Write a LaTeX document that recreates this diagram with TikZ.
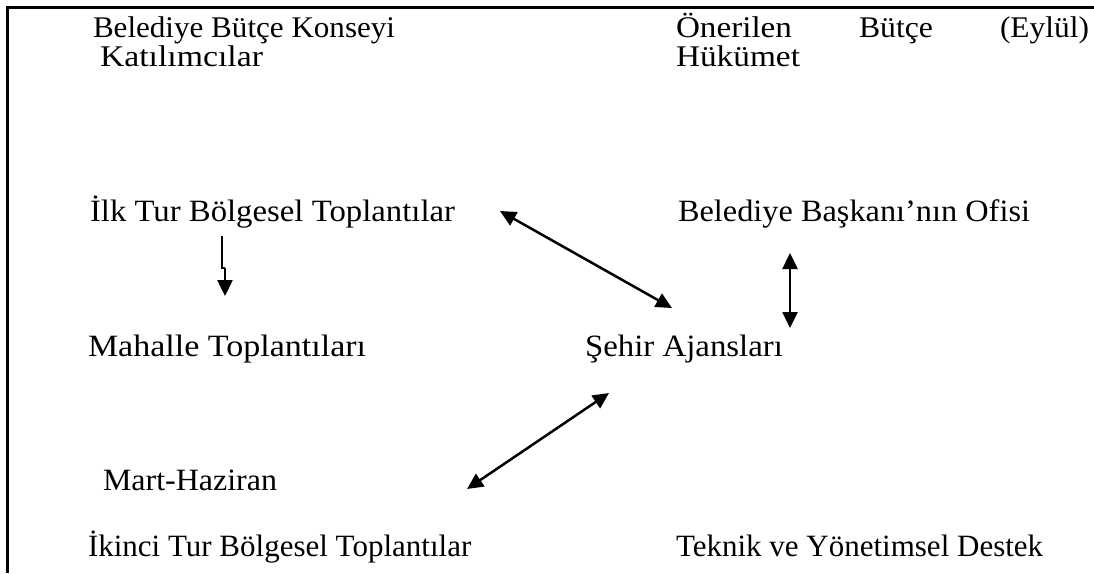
\documentclass[tikz,border=0pt]{standalone}
\usepackage{fontspec}
\setmainfont{Liberation Serif}
\usepackage{graphicx}
\usetikzlibrary{arrows.meta}
\newcommand{\fw}[2]{\resizebox{#1}{\height}{#2}}
\begin{document}
\begin{tikzpicture}[x=1pt,y=-1pt,
  lbl/.style={anchor=base west,inner sep=0pt,outer sep=0pt,font=\fontsize{30}{32}\selectfont},
  lblb/.style={lbl,font=\fontsize{31}{33}\selectfont},
  lblt/.style={lbl,font=\fontsize{31}{33}\selectfont},
  arr/.style={line width=2.5pt,-{Triangle[length=16pt,width=15pt]}},
  darr/.style={line width=2.5pt,{Triangle[length=16pt,width=15pt]}-{Triangle[length=16pt,width=15pt]}},
  frame/.style={line width=3pt}]
\useasboundingbox (0,0) rectangle (1094,573);
% frame
\coordinate (fTL) at (7.5,7);
\coordinate (fTR) at (1094,7);
\coordinate (fBL) at (7.5,573);
\draw[frame] (fBL) -- (fTL) -- (fTR);
% texts
\node[lbl] (bbk) at (93,37) {\fw{302pt}{Belediye Bütçe Konseyi}};
\node[lbl] (kat) at (100,66) {\fw{163pt}{Katılımcılar}};
\node[lbl] (onb) at (676,37) {\makebox[413pt][s]{\fw{116pt}{Önerilen}\hfill\fw{74pt}{Bütçe}\hfill\fw{89pt}{(Eylül)}}};
\node[lbl] (huk) at (676,66) {\fw{124pt}{Hükümet}};
\node[lblb] (ilk) at (90,221) {\fw{365pt}{İlk Tur Bölgesel Toplantılar}};
\node[lblb] (bbo) at (678,221) {\fw{352pt}{Belediye Başkanı’nın Ofisi}};
\node[lblb] (mah) at (88,356) {\fw{278pt}{Mahalle Toplantıları}};
\node[lblb] (seh) at (585,356) {\fw{198pt}{Şehir Ajansları}};
\node[lblt] (mart) at (103,490) {\fw{174pt}{Mart-Haziran}};
\node[lblt] (ikt) at (88,556) {İkinci Tur Bölgesel Toplantılar};
\node[lblt] (tek) at (676,556) {Teknik ve Yönetimsel Destek};
% arrow end points
\coordinate (a1s) at (222,236);
\coordinate (a1m) at (222,268);
\coordinate (a1n) at (225,268);
\coordinate (a1e) at (225,296);
\coordinate (a2s) at (500,211);
\coordinate (a2e) at (672,308);
\coordinate (a3s) at (790,253);
\coordinate (a3e) at (790,328);
\coordinate (a4s) at (609,393);
\coordinate (a4e) at (467,489);
\draw[line width=2.5pt] (a1s) -- (a1m) -- (a1n);
\draw[arr] (a1n) -- (a1e);
\draw[darr] (a2s) -- (a2e);
\draw[darr] (a3s) -- (a3e);
\draw[darr] (a4s) -- (a4e);
\end{tikzpicture}
\end{document}
